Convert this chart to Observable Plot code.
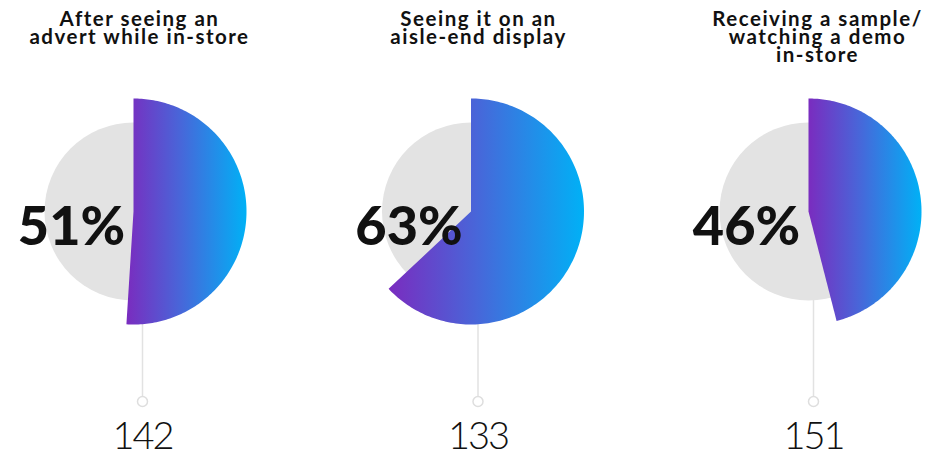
<!DOCTYPE html>
<html><head><meta charset="utf-8">
<script src="https://cdn.jsdelivr.net/npm/d3@7"></script>
<script src="https://cdn.jsdelivr.net/npm/@observablehq/plot@0.6"></script>
<style>
  body { margin: 0; background: #fff; }
  #chart svg { display: block; }
  g[aria-description='title'] text { letter-spacing: 1.5px; }
  g[aria-description='count'] text { letter-spacing: -2px; }
</style>
</head><body><div id="chart"></div>
<script>
// ---- data ----
const categories = ["advert", "aisle-end", "sample-demo"];
const titles = [
  "After seeing an\nadvert while in-store",
  "Seeing it on an\naisle-end display",
  "Receiving a sample/\nwatching a demo\nin-store"
];
const percents = [51, 63, 46];
const counts = [142, 133, 151];

// ---- layout ----
const W = 925, H = 452;
const pieX = d3.scalePoint().domain(categories).range([133, 808]);
const stemX = d3.scalePoint().domain(categories).range([142, 813]);
const titleX = d3.scalePoint().domain(categories).range([139, 817]);
const CY = 211, R_OUT = 113, R_IN = 89, STEM_END = 401;

// wedge outlines derived from the percentages
const wedges = categories.flatMap((c, i) => {
  const a1 = percents[i] / 100 * 2 * Math.PI;
  const pts = [{c, x: pieX(c), y: CY}];
  const n = 180;
  for (let k = 0; k <= n; k++) {
    const a = a1 * k / n;
    pts.push({c, x: pieX(c) + R_OUT * Math.sin(a), y: CY - R_OUT * Math.cos(a)});
  }
  return pts;
});

const chart = Plot.plot({
  width: W, height: H, margin: 0,
  x: {type: "identity", axis: null},
  y: {type: "identity", axis: null},
  style: {fontFamily: "Lato, sans-serif", background: "white", color: "#111"},
  marks: [
    Plot.ruleX(categories, {x: c => stemX(c), y1: () => CY, y2: () => STEM_END - 5, stroke: "#e2e2e2", strokeWidth: 1.5}),
    Plot.dot(categories, {x: c => stemX(c), y: () => STEM_END, r: 5, stroke: "#dedede", strokeWidth: 1.5, fill: "white"}),
    Plot.dot(categories, {x: c => pieX(c), y: () => CY, r: R_IN, fill: "#e3e3e3"}),
    Plot.line(wedges, {x: "x", y: "y", z: "c", fill: "url(#wedgeGrad)", stroke: "none", curve: "linear"}),
    Plot.text(percents, {x: (d, i) => pieX(categories[i]), y: () => CY, dx: -62, dy: 16, text: d => d + "%", fontSize: 54, fontWeight: 900, fill: "#111", textAnchor: "middle"}),
    Plot.text(titles, {x: (d, i) => titleX(categories[i]), y: () => 12.5, text: d => d, fontSize: 20.5, fontWeight: 700, lineHeight: 0.88, lineAnchor: "top", textAnchor: "middle", fill: "#111", ariaDescription: "title"}),
    Plot.text(counts, {x: (d, i) => stemX(categories[i]), y: () => 436, text: d => String(d), fontSize: 38, fontWeight: 300, fill: "#111", textAnchor: "middle", ariaDescription: "count"})
  ]
});

const svg = d3.select(chart);
const defs = svg.insert("defs", ":first-child");
const g = defs.append("linearGradient").attr("id", "wedgeGrad").attr("x1", 0).attr("x2", 1).attr("y1", 0).attr("y2", 0);
[[0, "#7a2cbf"], [0.45, "#4866d9"], [1, "#00b1f6"]].forEach(([o, c]) => g.append("stop").attr("offset", o).attr("stop-color", c));
document.getElementById("chart").appendChild(chart);
</script>
</body></html>
